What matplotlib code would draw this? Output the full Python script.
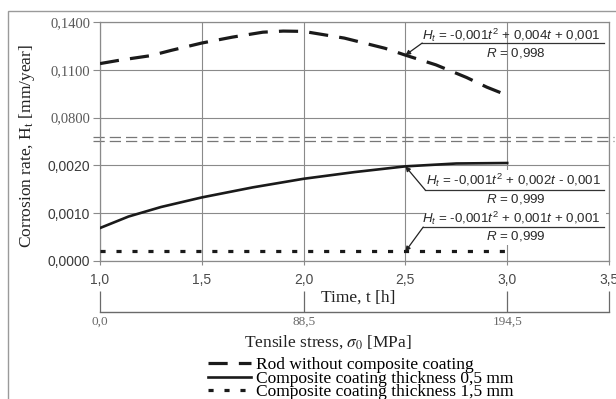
import numpy as np
import matplotlib.pyplot as plt
from matplotlib.patches import Rectangle

# --- data ---
t_rod = [1.0, 1.1, 1.25, 1.35, 1.5, 1.65, 1.8, 1.9, 2.0, 2.2, 2.4, 2.5, 2.65, 2.8, 2.9, 3.0]
rod = [0.1139, 0.1161, 0.1189, 0.1222, 0.1268, 0.1305, 0.1336, 0.1343, 0.1341,
       0.1299, 0.1235, 0.1192, 0.1131, 0.1052, 0.0991, 0.0940]

t_c05 = [1.0, 1.14, 1.3, 1.5, 1.75, 2.0, 2.25, 2.5, 2.75, 3.0]
c05 = [0.00069, 0.00093, 0.00113, 0.00133, 0.00154, 0.00172, 0.00186, 0.00198, 0.00204, 0.00205]

t_c15 = [1.0, 1.5, 2.0, 2.5, 3.0]
c15 = [0.0002, 0.0002, 0.0002, 0.0002, 0.0002]

y_ticks = [0.0, 0.001, 0.002, 0.08, 0.11, 0.14]
y_labels = ['0,0000', '0,0010', '0,0020', '0,0800', '0,1100', '0,1400']
x_ticks = [1.0, 1.5, 2.0, 2.5, 3.0, 3.5]
x_labels = ['1,0', '1,5', '2,0', '2,5', '3,0', '3,5']
stress_ticks = [1.0, 2.0, 3.0, 3.5]
stress_labels = ['0,0', '88,5', '194,5', '']

legend_labels = ['Rod without composite coating',
                 'Composite coating thickness 0,5 mm',
                 'Composite coating thickness 1,5 mm']
formulas = [r'$H_t$ = -0,001$t^2$ + 0,004$t$ + 0,001',
            r'$H_t$ = -0,001$t^2$ + 0,002$t$ - 0,001',
            r'$H_t$ = -0,001$t^2$ + 0,001$t$ + 0,001']
r_values = [r'$R$ = 0,998', r'$R$ = 0,999', r'$R$ = 0,999']

SERIF = 'Liberation Serif'
SANS = 'Liberation Sans'
GRID = '#8a8a8a'
TXT = '#4a4a4a'

plt.rcParams['font.family'] = [SERIF, 'DejaVu Serif']
plt.rcParams['mathtext.fontset'] = 'custom'
plt.rcParams['mathtext.rm'] = SANS
plt.rcParams['mathtext.it'] = SANS + ':italic'


# broken y axis: lower part 0..0,002 linear, upper part 0,08..0,14 linear
def fwd(v):
    v = np.asarray(v, dtype=float)
    return np.where(v <= 0.0022, v / 0.001,
                    np.where(v < 0.08, 2.2 + (v - 0.0022) / 0.0778 * 0.8,
                             3 + (v - 0.08) / 0.03))


def inv(p):
    p = np.asarray(p, dtype=float)
    return np.where(p <= 2.2, p * 0.001,
                    np.where(p < 3, 0.0022 + (p - 2.2) / 0.8 * 0.0778,
                             0.08 + (p - 3) * 0.03))


fig = plt.figure(figsize=(6.16, 3.99), dpi=100)
fig.add_artist(Rectangle((8 / 616, -0.2), 1.2, 1 - 11 / 399 + 0.2, transform=fig.transFigure,
                         fill=False, edgecolor='#9a9a9a', lw=1))

ax = fig.add_axes([100 / 616, 1 - 261 / 399, 509 / 616, 239 / 399])
ax.set_yscale('function', functions=(fwd, inv))
ax.set_xlim(1.0, 3.5)
ax.set_ylim(0, 0.14)

l1, = ax.plot(t_rod, rod, color='#1a1a1a', lw=2.3, dashes=(6, 3.5), zorder=3)
l2, = ax.plot(t_c05, c05, color='#1a1a1a', lw=1.9, zorder=3)
l3, = ax.plot(t_c15, c15, color='#1a1a1a', lw=2.3, dashes=(1.6, 3.4), zorder=3)

ax.set_yticks(y_ticks, labels=y_labels)
ax.set_xticks(x_ticks, labels=x_labels)
ax.grid(True, color=GRID, lw=0.8)
ax.set_axisbelow(True)
for s in ax.spines.values():
    s.set_color(GRID)
    s.set_linewidth(0.9)
ax.tick_params(axis='y', length=5, width=0.8, color=GRID, pad=2)
ax.tick_params(axis='x', length=3, width=0.8, color=GRID, pad=6)
for lab in ax.get_xticklabels():
    lab.set_fontfamily(SANS)
    lab.set_fontsize(10)
    lab.set_color(TXT)
for i, lab in enumerate(ax.get_yticklabels()):
    if i < 3:
        lab.set_fontfamily(SANS)
        lab.set_fontsize(10)
        lab.set_color('#3a3a3a')
    else:
        lab.set_fontfamily(SERIF)
        lab.set_fontsize(10.5)
        lab.set_color('#5a5a5a')

ax.set_ylabel(r'Corrosion rate, H$_{\rm t}$ [mm/year]', fontsize=12.5, color='#222222',
              math_fontfamily='stix')
ax.yaxis.set_label_coords(-0.124, 0.48)

# break marks on the y axis
for yb in (0.519, 0.502):
    ax.plot([-0.014, 1.01], [yb, yb], transform=ax.transAxes, clip_on=False,
            color='#777777', lw=0.9, dashes=(9, 4), zorder=2)

# white background behind the two lower equations
ax.add_patch(Rectangle((0.639, 0.067), 0.355, 0.314, transform=ax.transAxes,
                       facecolor='white', edgecolor='none', zorder=1))

# equations with underline and leader
ann = [
    # text y, R y, underline y, underline x0, target
    (0.946, 0.872, 0.912, 0.633, (t_rod[11], rod[11])),
    (0.337, 0.260, 0.297, 0.639, (t_c05[7], c05[7])),
    (0.178, 0.105, 0.142, 0.635, (t_c15[3], c15[3])),
]
for k, (ty, ry, uy, ux, target) in enumerate(ann):
    ax.text(0.984, ty, formulas[k], transform=ax.transAxes, ha='right', va='center',
            fontsize=9.6, color='#2a2a2a', family=SANS, zorder=4)
    ax.text(0.818, ry, r_values[k], transform=ax.transAxes, ha='center', va='center',
            fontsize=9.6, color='#2a2a2a', family=SANS, zorder=4)
    ax.plot([ux, 0.99], [uy, uy], transform=ax.transAxes, color='#333333', lw=0.9, zorder=4)
    ax.annotate('', xy=target, xycoords='data', xytext=(ux, uy), textcoords='axes fraction',
                arrowprops=dict(arrowstyle='-|>', color='#222222', lw=0.9,
                                mutation_scale=7, shrinkA=0, shrinkB=0), zorder=4)

fig.text(358 / 616, 1 - 298 / 399, 'Time, t [h]', ha='center', va='center',
         fontsize=12.5, color='#222222')

# stress axis below the time axis
sec = ax.secondary_xaxis(-0.213)
sec.set_xticks(stress_ticks, labels=stress_labels)
sec.tick_params(direction='in', length=15, width=0.9, color='#6a6a6a', pad=3)
sec.spines['bottom'].set_color('#6a6a6a')
sec.spines['bottom'].set_linewidth(1.0)
for lab in sec.get_xticklabels():
    lab.set_fontsize(9.5)
    lab.set_color('#6a6a6a')

fig.text(328 / 616, 1 - 342 / 399, r'Tensile stress, $\sigma_0$ [MPa]', ha='center', va='center',
         fontsize=12.5, color='#222222', math_fontfamily='stix')

fig.legend([l1, l2, l3], legend_labels, loc='upper left',
           bbox_to_anchor=(208 / 616, 1 - 357 / 399), frameon=False,
           prop={'family': SERIF, 'size': 12.5}, handlelength=2.5, handletextpad=0.25,
           labelspacing=-0.15, borderpad=0, borderaxespad=0)

fig.savefig('out.png', dpi=100)
